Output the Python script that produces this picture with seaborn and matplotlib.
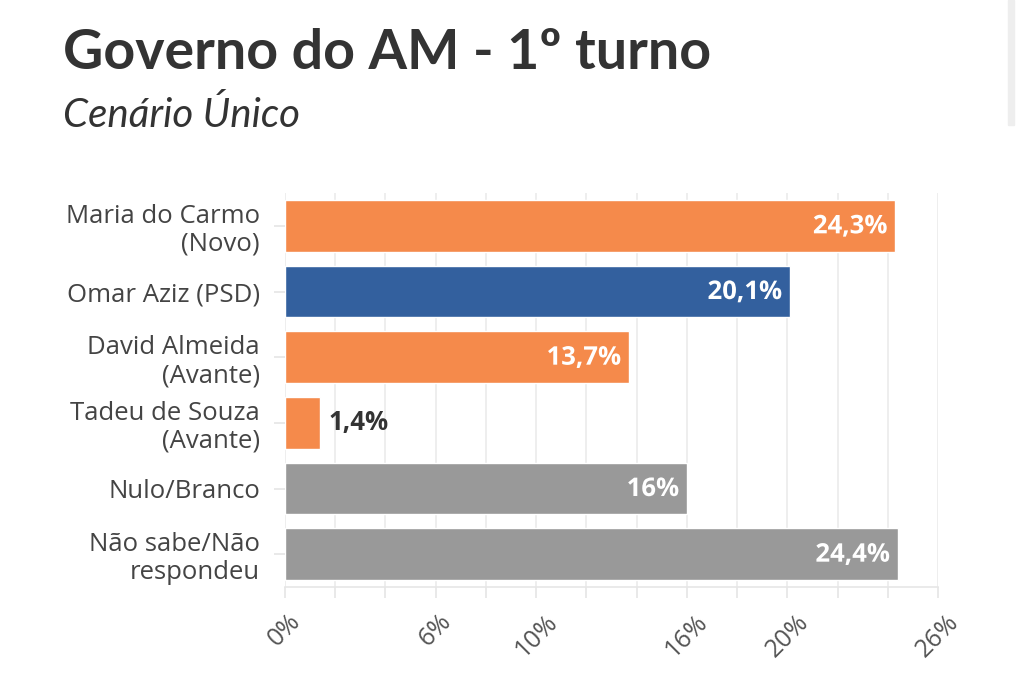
import numpy as np
import pandas as pd
import seaborn as sns
import matplotlib.patheffects as pe
from matplotlib import pyplot as plt
from matplotlib.ticker import FixedLocator, FuncFormatter

candidatos = ["Maria do Carmo\n(Novo)", "Omar Aziz (PSD)", "David Almeida\n(Avante)",
              "Tadeu de Souza\n(Avante)", "Nulo/Branco", "Não sabe/Não\nrespondeu"]
percentuais = [24.3, 20.1, 13.7, 1.4, 16.0, 24.4]
rotulos = ["24,3%", "20,1%", "13,7%", "1,4%", "16%", "24,4%"]
cores = ["#F58A4B", "#33609E", "#F58A4B", "#F58A4B", "#999999", "#999999"]
ticks_rotulados = [0, 6, 10, 16, 20, 26]

df = pd.DataFrame({"candidato": candidatos, "pct": percentuais})

sns.set_theme(style="white")
plt.rcParams["font.family"] = ["Open Sans", "DejaVu Sans"]

fig = plt.figure(figsize=(10.24, 6.8), dpi=100)
ax = fig.add_axes([285 / 1024, 1 - 587 / 680, (938 - 285) / 1024, (587 - 193) / 680])

sns.barplot(data=df, y="candidato", x="pct", hue="candidato", palette=cores,
            legend=False, width=0.79, saturation=1, ax=ax, zorder=2)

ax.set_xlim(0, 26)
ax.set_ylim(5.5, -0.5)
ax.xaxis.set_major_locator(FixedLocator(np.arange(0, 27, 2)))
ax.xaxis.set_major_formatter(FuncFormatter(lambda v, p: f"{int(v)}%" if int(round(v)) in ticks_rotulados else ""))
ax.grid(axis="x", color="#ebebeb", linewidth=1.2, zorder=0)
ax.set_axisbelow(True)
for s in ["top", "right", "left"]:
    ax.spines[s].set_visible(False)
ax.spines["bottom"].set_color("#e6e6e6")
ax.spines["bottom"].set_linewidth(1.2)
ax.tick_params(axis="x", bottom=True, length=8, color="#e6e6e6", labelsize=18,
               labelcolor="#555555", rotation=45, pad=8)
ax.tick_params(axis="y", left=True, length=8, color="#e6e6e6", labelsize=18.5,
               labelcolor="#444444", pad=10)
for lbl in ax.get_xticklabels():
    lbl.set_ha("center")
    lbl.set_va("top")
for lbl in ax.get_yticklabels():
    lbl.set_linespacing(1.15)
ax.set_xlabel("")
ax.set_ylabel("")

for i, (v, t, c) in enumerate(zip(percentuais, rotulos, cores)):
    if v < 5:
        ax.text(v + 0.35, i, t, ha="left", va="center", fontsize=18.5, fontweight="bold",
                color="#333333", family=["Open Sans", "DejaVu Sans"])
    else:
        ax.text(v - 0.3, i, t, ha="right", va="center", fontsize=18.5, fontweight="bold",
                color="white", family=["Open Sans", "DejaVu Sans"],
                path_effects=[pe.withStroke(linewidth=4, foreground=c)])

fig.text(63 / 1024, 1 - 53 / 680, "Governo do AM - 1º turno", fontsize=40, fontweight="bold",
         color="#333333", va="center", ha="left", family=["Lato", "DejaVu Sans"])
fig.text(63 / 1024, 1 - 115 / 680, "Cenário Único", fontsize=29, style="italic",
         color="#333333", va="center", ha="left", family=["Lato", "DejaVu Sans"])

fig.patches.append(plt.Rectangle((1008 / 1024, 1 - 125 / 680), 6 / 1024, 125 / 680,
                                 transform=fig.transFigure, color="#eeeeee", zorder=0))

fig.savefig("out.png", dpi=100)
